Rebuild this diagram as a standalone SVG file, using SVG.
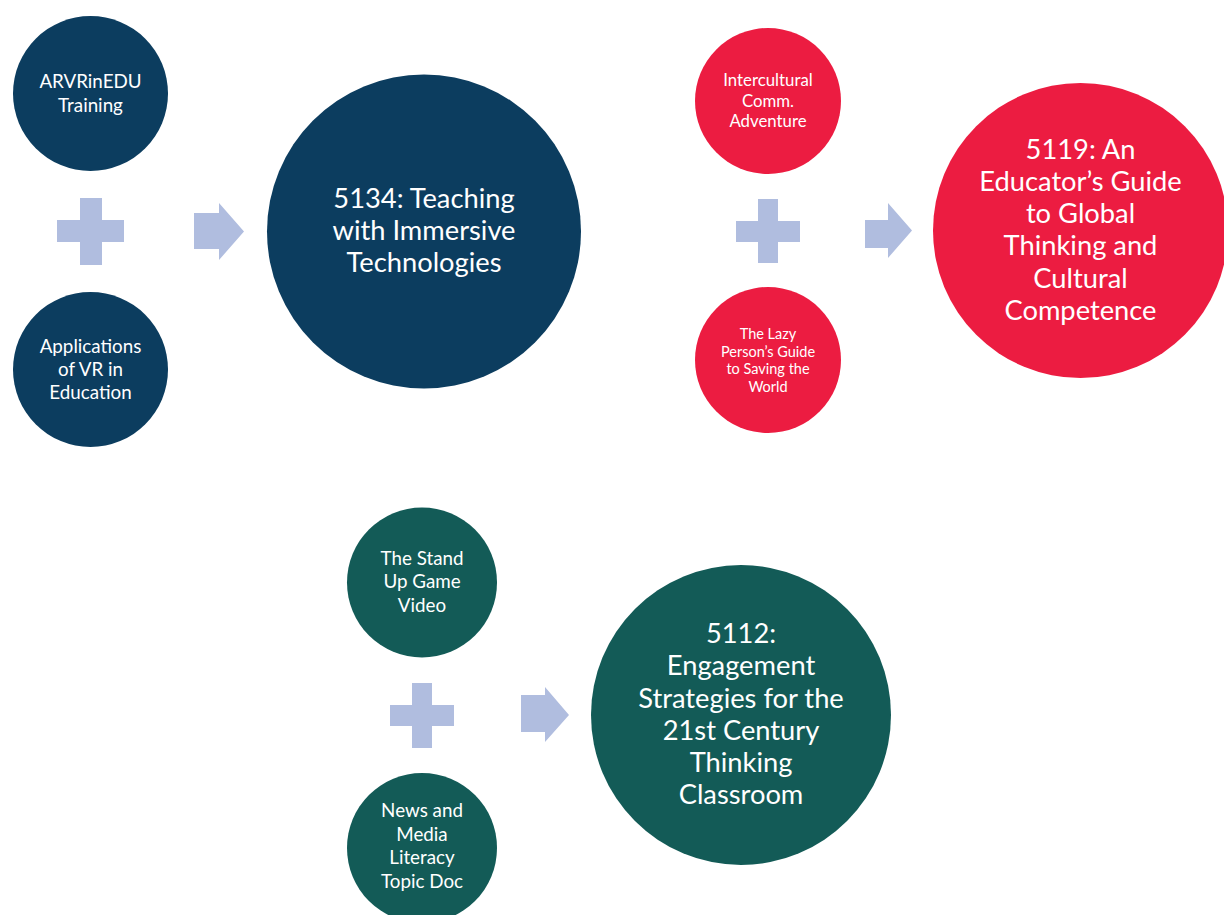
<svg xmlns="http://www.w3.org/2000/svg" width="1224" height="915" viewBox="0 0 1224 915">
<style>
.blue{fill:#0c3d5f}
.red{fill:#ec1c41}
.green{fill:#135b57}
.sym{fill:#b0bddf}
text{font-family:Lato,"Open Sans","Liberation Sans",sans-serif;fill:#ffffff;text-anchor:middle}
.s{font-size:18.8px}
.xs{font-size:16.8px}
.xxs{font-size:14.5px}
.l{font-size:27.3px}
</style>
<rect width="1224" height="915" fill="#ffffff"/>
<g id="connectors">
<path class="sym" d="M80,198H102V220H124V242H102V265H80V242H57V220H80Z"/>
<path class="sym" d="M194,213H219V203L244,231.5L219,260V249H194Z"/>
<path class="sym" d="M758,199H778V221H800V242H778V263H758V242H736V221H758Z"/>
<path class="sym" d="M865,220H888V203L912,230.5L888,258V248H865Z"/>
<path class="sym" d="M412,683H432V705H454V726H432V748H412V726H390V705H412Z"/>
<path class="sym" d="M521,695H545V687L569,715L545,742V732H521Z"/>
</g>
<g id="n-arvr">
<circle class="blue" cx="90.5" cy="93.5" r="77.5"/>
<text class="s" x="90.5" y="88">ARVRinEDU</text>
<text class="s" x="90.5" y="111.5">Training</text>
</g>
<g id="n-apps">
<circle class="blue" cx="90.5" cy="369.5" r="77.5"/>
<text class="s" x="90.5" y="353">Applications</text>
<text class="s" x="90.5" y="376">of VR in</text>
<text class="s" x="90.5" y="399">Education</text>
</g>
<g id="n-5134">
<circle class="blue" cx="424" cy="231.5" r="157"/>
<text class="l" x="424" y="208">5134: Teaching</text>
<text class="l" x="424" y="240">with Immersive</text>
<text class="l" x="424" y="272">Technologies</text>
</g>
<g id="n-intercultural">
<circle class="red" cx="768" cy="101" r="73"/>
<text class="xs" x="768" y="86">Intercultural</text>
<text class="xs" x="768" y="106.5">Comm.</text>
<text class="xs" x="768" y="127">Adventure</text>
</g>
<g id="n-lazy">
<circle class="red" cx="768" cy="360" r="73"/>
<text class="xxs" x="768" y="339">The Lazy</text>
<text class="xxs" x="768" y="356.5">Person’s Guide</text>
<text class="xxs" x="768" y="374">to Saving the</text>
<text class="xxs" x="768" y="391.5">World</text>
</g>
<g id="n-5119">
<circle class="red" cx="1080.5" cy="230.5" r="147.5"/>
<text class="l" x="1080.5" y="159">5119: An</text>
<text class="l" x="1080.5" y="191">Educator’s Guide</text>
<text class="l" x="1080.5" y="223">to Global</text>
<text class="l" x="1080.5" y="255">Thinking and</text>
<text class="l" x="1080.5" y="288">Cultural</text>
<text class="l" x="1080.5" y="320">Competence</text>
</g>
<g id="n-standup">
<circle class="green" cx="422" cy="582.5" r="75"/>
<text class="s" x="422" y="565">The Stand</text>
<text class="s" x="422" y="588">Up Game</text>
<text class="s" x="422" y="612">Video</text>
</g>
<g id="n-news">
<circle class="green" cx="422" cy="848" r="75"/>
<text class="s" x="422" y="817">News and</text>
<text class="s" x="422" y="841">Media</text>
<text class="s" x="422" y="864">Literacy</text>
<text class="s" x="422" y="888">Topic Doc</text>
</g>
<g id="n-5112">
<circle class="green" cx="741" cy="715" r="150"/>
<text class="l" x="741" y="643">5112:</text>
<text class="l" x="741" y="675">Engagement</text>
<text class="l" x="741" y="708">Strategies for the</text>
<text class="l" x="741" y="740">21st Century</text>
<text class="l" x="741" y="772">Thinking</text>
<text class="l" x="741" y="804">Classroom</text>
</g>
</svg>
